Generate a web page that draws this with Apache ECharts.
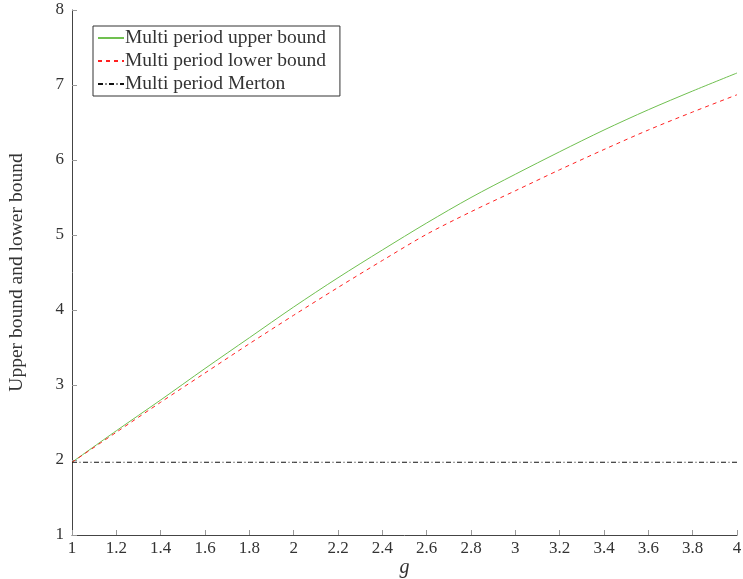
<!DOCTYPE html>
<html>
<head>
<meta charset="utf-8">
<script src="https://cdn.jsdelivr.net/npm/echarts@6/dist/echarts.min.js"></script>
<style>html,body{margin:0;padding:0;background:#fff}#c{width:743px;height:579px}</style>
</head>
<body>
<div id="c"></div>
<script>
const gValues = [1, 1.2, 1.4, 1.6, 1.8, 2, 2.2, 2.4, 2.6, 2.8, 3, 3.2, 3.4, 3.6, 3.8, 4];
const upperBound = [1.97, 2.39, 2.80, 3.22, 3.63, 4.04, 4.43, 4.80, 5.16, 5.50, 5.81, 6.11, 6.40, 6.67, 6.92, 7.16];
const lowerBound = [1.97, 2.37, 2.77, 3.16, 3.55, 3.93, 4.30, 4.66, 5.01, 5.31, 5.59, 5.87, 6.14, 6.40, 6.64, 6.87];
const merton = [1.97, 1.97, 1.97, 1.97, 1.97, 1.97, 1.97, 1.97, 1.97, 1.97, 1.97, 1.97, 1.97, 1.97, 1.97, 1.97];
const seriesNames = ['Multi period upper bound', 'Multi period lower bound', 'Multi period Merton'];

const font = 'Liberation Serif';
const pair = arr => gValues.map((g, i) => [g, arr[i]]);
const chart = echarts.init(document.getElementById('c'));
chart.setOption({
  backgroundColor: '#fff',
  animation: false,
  textStyle: { fontFamily: font },
  grid: { left: 72, right: 6, top: 10, bottom: 44, containLabel: false, outerBoundsMode: 'none' },
  legend: {
    orient: 'vertical', left: 93, top: 26,
    borderColor: '#333', borderWidth: 1, padding: [2, 14, 2, 4],
    itemGap: 3, itemWidth: 26, itemHeight: 20,
    itemStyle: { opacity: 0 },
    textStyle: { fontFamily: font, fontSize: 19.5, color: '#333', padding: [0, 0, 0, -4] },
    data: seriesNames
  },
  xAxis: {
    type: 'value', min: 1, max: 4, interval: 0.2,
    name: 'g', nameLocation: 'middle', nameGap: 23, nameMoveOverlap: false,
    nameTextStyle: { fontFamily: font, fontSize: 20, fontStyle: 'italic', color: '#333', verticalAlign: 'top' },
    axisLine: { lineStyle: { color: '#444', width: 1 } },
    axisTick: { inside: true, length: 5, lineStyle: { color: '#999' } },
    axisLabel: { fontFamily: font, fontSize: 17, color: '#333', margin: 5 },
    splitLine: { show: false }
  },
  yAxis: {
    type: 'value', min: 1, max: 8, interval: 1,
    name: 'Upper bound and lower bound', nameLocation: 'middle', nameGap: 45, nameMoveOverlap: false,
    nameTextStyle: { fontFamily: font, fontSize: 19.5, color: '#333' },
    axisLine: { show: true, lineStyle: { color: '#444', width: 1 } },
    axisTick: { show: true, inside: true, length: 5, lineStyle: { color: '#999' } },
    axisLabel: { fontFamily: font, fontSize: 17, color: '#333', margin: 8 },
    splitLine: { show: false }
  },
  series: [
    { name: seriesNames[0], type: 'line', data: pair(upperBound), symbol: 'none', smooth: 0.3,
      lineStyle: { color: '#70c050', width: 1 }, itemStyle: { color: '#70c050' } },
    { name: seriesNames[1], type: 'line', data: pair(lowerBound), symbol: 'none', smooth: 0.3,
      lineStyle: { color: '#ff2020', width: 1, type: [4, 4] }, itemStyle: { color: '#ff2020' } },
    { name: seriesNames[2], type: 'line', data: pair(merton), symbol: 'none',
      lineStyle: { color: '#111', width: 1, type: [5, 2.5, 1, 2.5] }, itemStyle: { color: '#111' } }
  ]
});
</script>
</body>
</html>
